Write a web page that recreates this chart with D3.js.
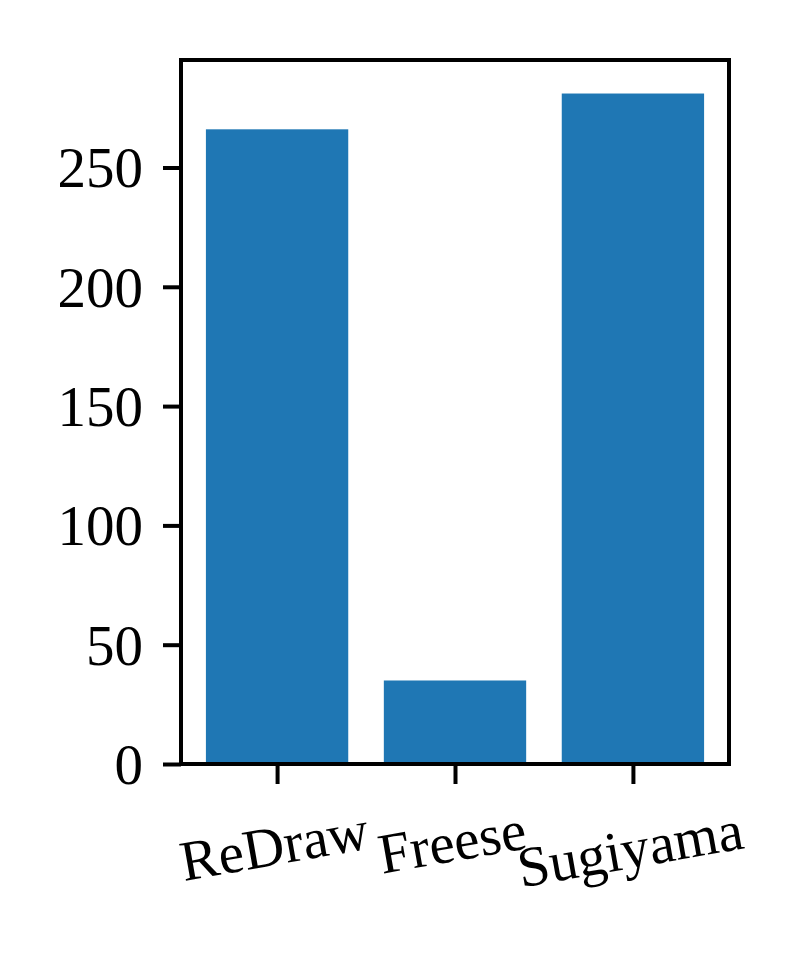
<!DOCTYPE html>
<html><head><meta charset="utf-8">
<script src="https://cdn.jsdelivr.net/npm/d3@7"></script>
<style>body{margin:0;background:#fff}</style>
</head><body>
<svg id="c" width="800" height="960"></svg>
<script>
const categories = ["ReDraw", "Freese", "Sugiyama"];
const values = [266, 35, 281];
const yTicks = [0, 50, 100, 150, 200, 250];

const svg = d3.select("#c");
const L = 181, R = 729, T = 60, B = 764;
const font = "Liberation Serif";
const fs = 57;
const lw = 4;
const rot = 10;

const x = d3.scaleLinear().domain([-0.54, categories.length - 1 + 0.54]).range([L, R]);
const y = d3.scaleLinear().domain([0, d3.max(values) * 1.05]).range([B, T]);
const bw = 0.8;

svg.append("g").selectAll("rect").data(values).join("rect")
  .attr("x", (d, i) => x(i - bw / 2))
  .attr("width", x(bw) - x(0))
  .attr("y", d => y(d))
  .attr("height", d => y(0) - y(d))
  .attr("fill", "#1f77b4");

// y axis
const ya = svg.append("g").attr("transform", `translate(${L},0)`)
  .call(d3.axisLeft(y).tickValues(yTicks).tickSize(18).tickPadding(20).tickFormat(d3.format("d")));
ya.select(".domain").remove();
ya.selectAll(".tick line").style("stroke", "#000").style("stroke-width", lw);
ya.selectAll(".tick text").attr("font-family", font).attr("font-size", fs).attr("fill", "#000").attr("dy", "0.34em");

// x axis
const xa = svg.append("g").attr("transform", `translate(0,${B})`)
  .call(d3.axisBottom(x).tickValues(d3.range(categories.length)).tickSize(20).tickFormat(i => categories[i]));
xa.select(".domain").remove();
xa.selectAll(".tick line").style("stroke", "#000").style("stroke-width", lw);
xa.selectAll(".tick text")
  .attr("font-family", font).attr("font-size", fs).attr("fill", "#000")
  .attr("y", 0).attr("dy", 0)
  .attr("text-anchor", "middle")
  .each(function () {
    const w = this.getComputedTextLength();
    const off = 84 + w * Math.sin(rot * Math.PI / 180) / 2;
    d3.select(this).attr("transform", `translate(0,${off}) rotate(${-rot})`);
  });

// frame
svg.append("rect").attr("x", L).attr("y", T).attr("width", R - L).attr("height", B - T)
  .attr("fill", "none").style("stroke", "#000").style("stroke-width", lw);
</script>
</body></html>
